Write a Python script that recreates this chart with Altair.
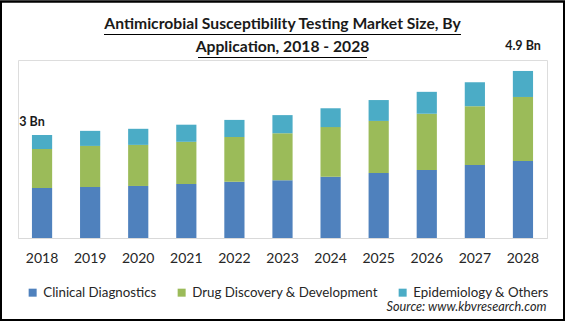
import altair as alt
import pandas as pd

years = ["2018", "2019", "2020", "2021", "2022", "2023", "2024", "2025", "2026", "2027", "2028"]
clinical = [1.46, 1.49, 1.52, 1.58, 1.64, 1.69, 1.79, 1.90, 1.99, 2.13, 2.25]
drug = [1.14, 1.20, 1.20, 1.23, 1.31, 1.37, 1.45, 1.52, 1.64, 1.72, 1.87]
epi = [0.41, 0.44, 0.47, 0.50, 0.50, 0.53, 0.55, 0.61, 0.64, 0.70, 0.76]
segments = ["Clinical Diagnostics", "Drug Discovery & Development", "Epidemiology & Others"]
colors = ["#4f81bd", "#9bbb59", "#4bacc6"]
ann_years = ["2018", "2028"]
ann_labels = ["3 Bn", "4.9 Bn"]
title_lines = ["Antimicrobial Susceptibility Testing Market Size, By", "Application, 2018 - 2028"]
source = "Source: www.kbvresearch.com"

rows = []
for i, y in enumerate(years):
    for k, (s, vals) in enumerate(zip(segments, [clinical, drug, epi])):
        rows.append({"year": y, "segment": s, "value": vals[i], "order": k})
df = pd.DataFrame(rows)

totals = {y: c + d + e for y, c, d, e in zip(years, clinical, drug, epi)}
ann = pd.DataFrame({"year": ann_years, "label": ann_labels,
                    "total": [totals[y] for y in ann_years]})

W, H = 529, 178
PL, PT = 18, 60
FONT = "Lato"

xscale = alt.Scale(domain=years, paddingInner=0.58, paddingOuter=0.29)
yscale = alt.Scale(domain=[0, 5.2])

bars = alt.Chart(df).mark_bar().encode(
    x=alt.X("year:N", scale=xscale, sort=years,
            axis=alt.Axis(title=source, labelAngle=0, ticks=False, domainColor="#d9d9d9",
                          domainWidth=1, labelFont=FONT, labelFontSize=14, labelColor="#262626",
                          labelPadding=13, titleFont=FONT, titleFontSize=12.7,
                          titleFontStyle="italic", titleFontWeight="normal", titleColor="#262626",
                          titleX=W - 1, titleY=72, titleAlign="right", titleBaseline="alphabetic",
                          titleAnchor="end")),
    y=alt.Y("value:Q", stack="zero", scale=yscale, axis=None),
    color=alt.Color("segment:N", scale=alt.Scale(domain=segments, range=colors),
                    legend=alt.Legend(orient="none", legendX=8, legendY=226, direction="horizontal",
                                      columns=3, title=None, symbolType="square", symbolSize=64,
                                      symbolStrokeWidth=0, labelFont=FONT, labelFontSize=13.3,
                                      labelLimit=400, labelColor="#262626", columnPadding=18,
                                      labelOffset=4)),
    order=alt.Order("order:Q", sort="ascending"),
)

ann_base = alt.Chart(ann).encode(
    x=alt.X("year:N", scale=xscale, sort=years),
    y=alt.Y("total:Q", scale=yscale),
    text="label:N",
)
ann1 = ann_base.transform_filter(alt.datum.year == ann_years[0]).mark_text(
    font=FONT, fontWeight="bold", fontSize=12.5, dx=-10, dy=-13, baseline="middle", color="#1a1a1a")
ann2 = ann_base.transform_filter(alt.datum.year == ann_years[1]).mark_text(
    font=FONT, fontWeight="bold", fontSize=12.5, dx=0, dy=-25, baseline="middle", color="#1a1a1a")

frame = alt.Chart(ann).mark_rect(fill=None, stroke="black", strokeWidth=2).encode(
    x=alt.value(-PL + 1), x2=alt.value(W + 17), y=alt.value(-PT + 1.5), y2=alt.value(H + 82))

ul = alt.Chart(ann).mark_rule(color="black", strokeWidth=1)
ul1 = ul.encode(x=alt.value(104 - PL), x2=alt.value(461 - PL), y=alt.value(34.5 - PT))
ul2 = ul.encode(x=alt.value(198 - PL), x2=alt.value(367 - PL), y=alt.value(57.5 - PT))

chart = alt.layer(bars, ann1, ann2, frame, ul1, ul2).properties(
    width=W, height=H,
    autosize=alt.AutoSizeParams(type="none"),
    padding={"left": PL, "top": PT, "right": 565 - PL - W, "bottom": 322 - PT - H},
    title=alt.TitleParams(text=title_lines, font=FONT, fontWeight="bold", fontSize=15.7,
                          anchor="middle", lineHeight=23, color="#1a1a1a", offset=-67.5,
                          baseline="alphabetic"),
).configure_view(stroke=None).configure(background="white")

chart.save("out.html", embed_options={"renderer": "svg", "actions": False})
